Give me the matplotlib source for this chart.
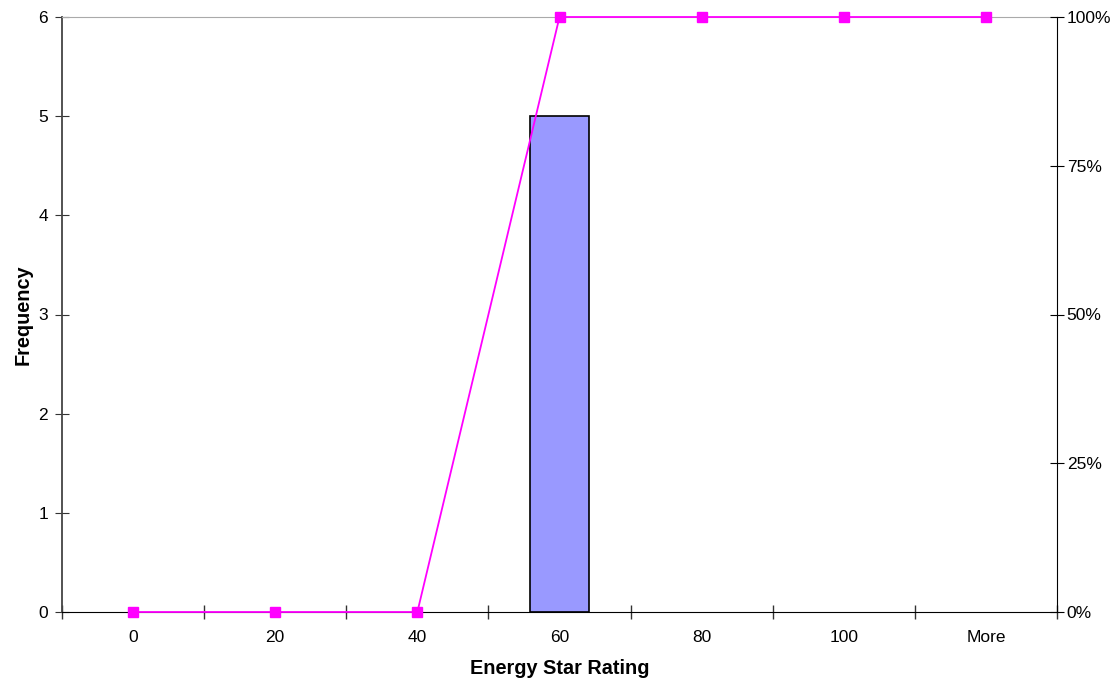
import matplotlib
matplotlib.use('Agg')
import matplotlib.pyplot as plt
from matplotlib.ticker import FixedLocator, PercentFormatter

plt.rcParams['font.family'] = ['Liberation Sans', 'DejaVu Sans']

bins = ['0', '20', '40', '60', '80', '100', 'More']
frequency = [0, 0, 0, 5, 0, 0, 0]
cumulative_pct = [0, 0, 0, 100, 100, 100, 100]

fig = plt.figure(figsize=(11.17, 6.82), dpi=100)
ax = fig.add_axes([62/1117, 1 - 612/682, 995/1117, 595/682])
x = list(range(len(bins)))

# only draw non-empty bars so no outline sits on the baseline
bx = [i for i, f in zip(x, frequency) if f > 0]
bh = [f for f in frequency if f > 0]
ax.bar(bx, bh, width=0.41, color='#9999FF', edgecolor='black', linewidth=1.2, zorder=2)
ax.set_xlim(-0.5, len(bins) - 0.5)
ax.set_ylim(0, 6)
ax.set_xticks(x)
ax.set_xticklabels(bins)
ax.xaxis.set_minor_locator(FixedLocator([i + 0.5 for i in range(-1, len(bins))]))
ax.tick_params(axis='x', which='major', length=0, pad=13, labelsize=12.5)
ax.tick_params(axis='x', which='minor', length=10, direction='inout', width=1, color='#333333')
ax.tick_params(axis='y', direction='inout', length=10, labelsize=12.5, pad=5, color='#333333')
ax.set_yticks(range(7))

ax.spines['top'].set_color('#aaaaaa')
ax.spines['left'].set_color('#444444')
ax.spines['left'].set_linewidth(1.3)
ax.spines['bottom'].set_color('black')
ax.spines['right'].set_visible(False)

ax.set_xlabel('Energy Star Rating', fontsize=14.3, fontweight='bold', labelpad=10)
ax.set_ylabel('Frequency', fontsize=14.3, fontweight='bold', labelpad=4)

ax2 = ax.twinx()
ax2.plot(x, cumulative_pct, color='#FF00FF', marker='s', markersize=7, linewidth=1.3,
         zorder=3, clip_on=False)
ax2.set_ylim(0, 100)
ax2.set_yticks([0, 25, 50, 75, 100])
ax2.yaxis.set_major_formatter(PercentFormatter(decimals=0))
ax2.tick_params(axis='y', direction='inout', length=10, labelsize=12.5, pad=2)
for s in ['top', 'left', 'bottom']:
    ax2.spines[s].set_visible(False)
ax2.spines['right'].set_color('black')
ax2.set_xlim(-0.5, len(bins) - 0.5)

fig.savefig('out.png', dpi=100)
